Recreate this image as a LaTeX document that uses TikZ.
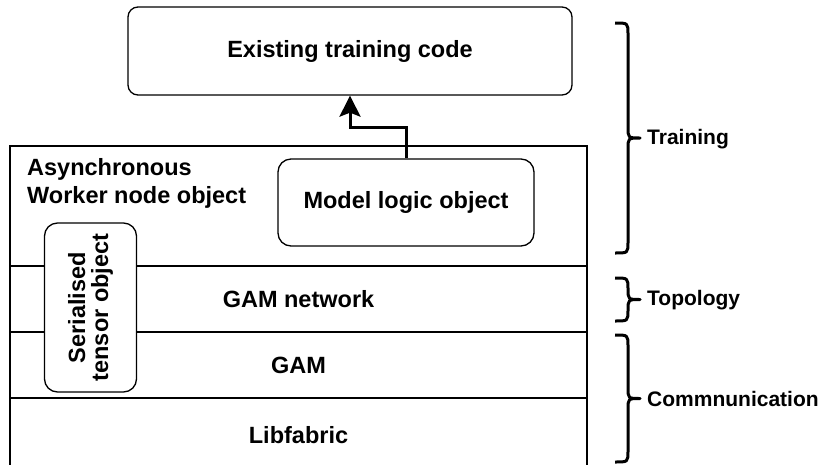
\documentclass[tikz,border=0pt]{standalone}
\usepackage{fontspec}
\setmainfont{Liberation Sans}
\usetikzlibrary{arrows.meta}
% curly brace opening to the right: #1 = x of the hooks, #2 = top y, #3 = bottom y
\newcommand{\curlybrace}[3]{%
  \pgfmathsetmacro\bracemid{(#2+#3)/2}%
  \draw[bracestroke]
    (#1,#2) .. controls (#1+13,#2) .. (#1+13,#2+11)
    -- (#1+13,\bracemid-11) .. controls (#1+13,\bracemid) .. (#1+25,\bracemid)
    .. controls (#1+13,\bracemid) .. (#1+13,\bracemid+11)
    -- (#1+13,#3-11) .. controls (#1+13,#3) .. (#1,#3);}
\begin{document}
\begin{tikzpicture}[x=1pt,y=-1pt,
  lbl/.style={font=\fontsize{23.5}{28}\selectfont\bfseries},
  side/.style={font=\fontsize{21}{25}\selectfont\bfseries, anchor=west, inner sep=0pt},
  layer/.style={draw, line width=1.3pt, rectangle, inner sep=0pt, lbl},
  rbox/.style={draw, line width=1.3pt, rounded corners=13pt, fill=white, inner sep=0pt, lbl},
  bracestroke/.style={line width=3pt, line join=round},
  flow/.style={line width=3pt, -{Stealth[length=21pt,width=21pt,inset=4pt]}}]
\useasboundingbox (0,0) rectangle (822,464);
\clip (0,0) rectangle (822,464);

% stack of layers
\node[layer, minimum width=577pt, minimum height=120pt] (worker) at (298.5,206) {};
\node[layer, minimum width=577pt, minimum height=66pt] (gamnet) at (298.5,299) {GAM network};
\node[layer, minimum width=577pt, minimum height=66pt] (gam) at (298.5,365) {GAM};
\node[layer, minimum width=577pt, minimum height=74pt] (libf) at (298.5,435) {Libfabric};

\node[lbl, anchor=north west, align=left, inner sep=0pt] (workerlbl) at (27,158)
  {Asynchronous\\Worker node object};

% objects
\node[rbox, rounded corners=10pt, minimum width=444pt, minimum height=88pt] (top) at (350,51) {Existing training code};
\node[rbox, minimum width=256pt, minimum height=87pt] (model) at (406,202.5) {Model logic object};
\node[rbox, rotate=90, minimum width=169pt, minimum height=92pt, align=center,
  font=\fontsize{23.5}{23}\selectfont\bfseries] (ser) at (90.5,307.5) {Serialised\\tensor object};

% model logic hands results up to the training code
\coordinate (bend) at (350,127);
\draw[flow] (model.north) |- (bend) -- (top.south);

% braces grouping the layers
\curlybrace{615}{23}{253}
\curlybrace{615}{278}{321}
\curlybrace{615}{335}{462}

\node[side] (training) at (647,139) {Training};
\node[side] (topology) at (647,300) {Topology};
\node[side] (comm) at (647,399) {Commnunication};
\end{tikzpicture}
\end{document}
